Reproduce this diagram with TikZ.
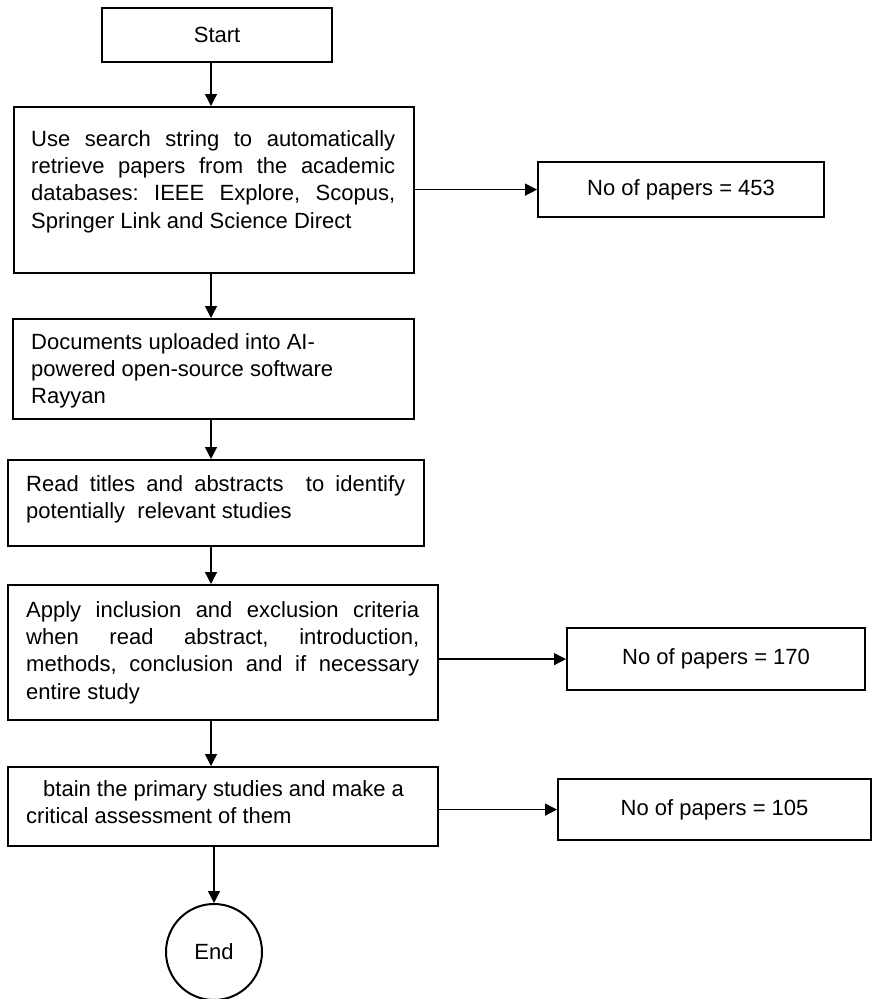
\documentclass[tikz,border=0pt]{standalone}
\usepackage{fontspec}
\setmainfont{Liberation Sans}
\usetikzlibrary{arrows.meta,shapes.geometric}
\frenchspacing
\begin{document}
\begin{tikzpicture}[x=1pt,y=-1pt,
  every node/.style={font=\fontsize{22}{27.3}\selectfont},
  box/.style={draw, line width=2.2pt, inner sep=0pt, anchor=north west},
  txt/.style={inner sep=0pt, anchor=north west, align=left},
  arr/.style={line width=1.3pt, -{Triangle[length=12pt,width=12pt]}},
]
\useasboundingbox (0,0) rectangle (871,999);

% process boxes of the main column
\node[box, minimum width=230pt, minimum height=54pt] (start) at (101,7) {Start};

\node[box, minimum width=400pt, minimum height=166pt] (search) at (13,106) {};
\node[txt] (searchtxt) at (31,130) {%
\makebox[364pt][s]{Use search string to automatically}\\
\makebox[364pt][s]{retrieve papers from the academic}\\
\makebox[364pt][s]{databases: IEEE Explore, Scopus,}\\
Springer Link and Science Direct};

\node[box, minimum width=401pt, minimum height=100pt] (upload) at (12,318) {};
\node[txt] (uploadtxt) at (31,333) {%
Documents uploaded into AI-\\
powered open-source software\\
Rayyan};

\node[box, minimum width=416pt, minimum height=86pt] (screen) at (7,459) {};
\node[txt] (screentxt) at (26,475) {%
\makebox[379pt][s]{Read titles and abstracts\ \ to identify}\\
potentially\ \ relevant studies};

\node[box, minimum width=430pt, minimum height=135pt] (criteria) at (7,584) {};
\node[txt] (criteriatxt) at (26,601) {%
\makebox[393pt][s]{Apply inclusion and exclusion criteria}\\
\makebox[393pt][s]{when read abstract, introduction,}\\
\makebox[393pt][s]{methods, conclusion and if necessary}\\
entire study};

\node[box, minimum width=430pt, minimum height=79pt] (assess) at (7,766) {};
\node[txt] (assesstxt) at (26,780) {%
\hspace*{17pt}btain the primary studies and make a\\
critical assessment of them};

\node[draw, circle, line width=2pt, minimum size=96pt, inner sep=0pt] (end) at (214,952) {End};

% paper counts
\node[box, minimum width=286pt, minimum height=55pt] (n453) at (537,161) {No of papers = 453};
\node[box, minimum width=298pt, minimum height=62pt] (n170) at (566,627) {No of papers = 170};
\node[box, minimum width=313pt, minimum height=61pt] (n105) at (557,778) {No of papers = 105};

% connectors
\coordinate (spine) at (211,0);
\draw[arr] (start.south -| spine) -- (search.north -| spine);
\draw[arr] (search.south -| spine) -- (upload.north -| spine);
\draw[arr] (upload.south -| spine) -- (screen.north -| spine);
\draw[arr] (screen.south -| spine) -- (criteria.north -| spine);
\draw[arr] (criteria.south -| spine) -- (assess.north -| spine);
\draw[arr] (assess.south -| end) -- (end.north);

\draw[arr] (search.east |- n453) -- (n453.west);
\draw[arr] (criteria.east |- n170) -- (n170.west);
\draw[arr] (assess.east |- n105) -- (n105.west);
\end{tikzpicture}
\end{document}
